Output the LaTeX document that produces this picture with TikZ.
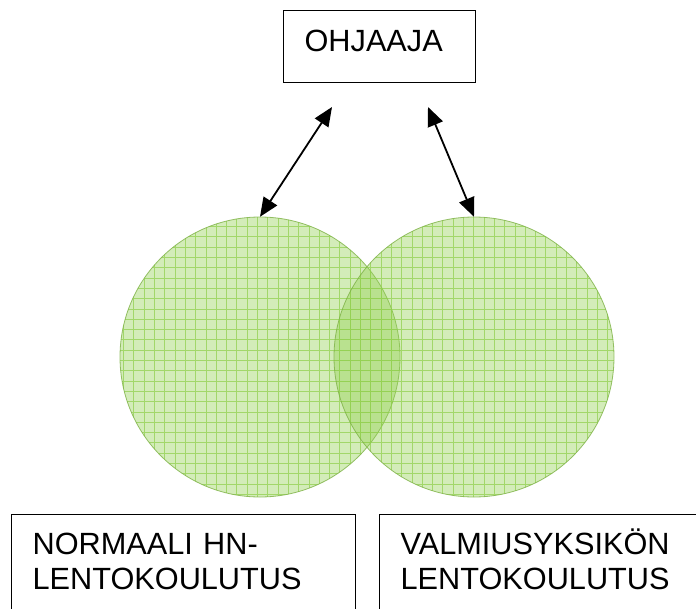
\documentclass[tikz,border=0pt]{standalone}
\usepackage{fontspec}
\setmainfont{Liberation Sans}
\usepackage{tikz}
\usetikzlibrary{positioning, calc, arrows.meta}
\definecolor{lehti}{RGB}{146,208,80}

\begin{document}
\begin{tikzpicture}[x=1pt, y=-1pt,
	laatikko/.style={draw, line width=1.2pt, rectangle, anchor=north west, align=left,
		inner xsep=21pt, inner ysep=18pt, font=\fontsize{30.7}{35}\selectfont},
	nuoli/.style={{Triangle[length=19pt, width=16pt]}-{Triangle[length=19pt, width=16pt]}, line width=1.8pt}]
\path[use as bounding box, clip] (0,0) rectangle (696,608);
\foreach \n/\x in {hn/260, vy/474} {
	\node[circle, minimum size=280pt, inner sep=0, fill=lehti, fill opacity=.4] (c\n) at (\x,357) {};
	\begin{scope}
		\clip (c\n.center) circle [radius=140];
		\draw[lehti, line width=1pt, opacity=.75, step=10.3pt] (\x-150,200) grid (\x+150,510);
	\end{scope}
	\draw[lehti!85!black, line width=.8pt, opacity=.8] (c\n.center) circle [radius=140];
}
\node[laatikko, text width=150pt, text height=23pt, text depth=13pt] (ohjaaja) at (283,10) {OHJAAJA};
\node[laatikko, text width=302pt, text height=22pt, text depth=70pt] (normaali) at (11,514) {NORMAALI HN-\\LENTOKOULUTUS};
\node[laatikko, text width=340pt, text height=22pt, text depth=70pt] (valmius) at (379,514) {VALMIUSYKSIKÖN\\LENTOKOULUTUS};
\coordinate (lkarki) at (332,107);
\coordinate (rkarki) at (428,107);
\draw[nuoli] (lkarki) -- (chn.north);
\draw[nuoli] (rkarki) -- (cvy.north);
\end{tikzpicture}
\end{document}
